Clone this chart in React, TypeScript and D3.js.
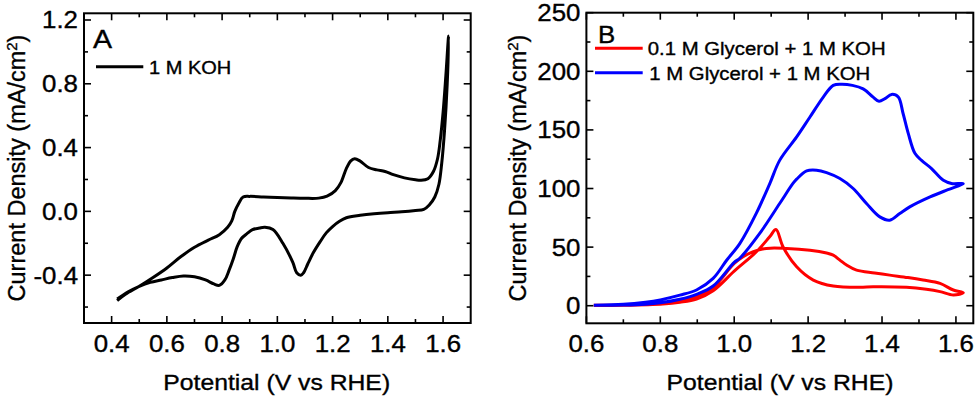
import React from 'react';
import * as d3 from 'd3';

// Panel A: CV in 1 M KOH, traced as one loop (forward then reverse)
const potentialA = [
  0.42, 0.45, 0.5, 0.55, 0.6, 0.65, 0.7, 0.75, 0.79, 0.82, 0.835, 0.846, 0.86, 0.876, 0.9, 0.95, 1.0, 1.05, 1.1, 1.15,
  1.18, 1.21, 1.23, 1.25, 1.265, 1.28, 1.3, 1.33, 1.36, 1.39, 1.42, 1.46, 1.5, 1.52, 1.545, 1.565, 1.58, 1.59, 1.6, 1.61, 1.62,
  1.615, 1.605, 1.595, 1.585, 1.57, 1.55, 1.53, 1.5, 1.45, 1.4, 1.35, 1.3, 1.25, 1.225, 1.2, 1.177, 1.155, 1.13, 1.11, 1.095,
  1.085, 1.07, 1.056, 1.02, 0.984, 0.955, 0.936, 0.91, 0.89, 0.87, 0.855, 0.84, 0.825, 0.81, 0.79, 0.77, 0.74, 0.7, 0.66,
  0.62, 0.58, 0.54, 0.5, 0.46, 0.42,
];
const currentA = [
  -0.56, -0.52, -0.47, -0.415, -0.355, -0.285, -0.225, -0.18, -0.146, -0.1, -0.06, 0.0, 0.05, 0.09, 0.094, 0.09, 0.087, 0.084, 0.082, 0.083,
  0.095, 0.13, 0.18, 0.27, 0.315, 0.33, 0.315, 0.275, 0.26, 0.25, 0.23, 0.21, 0.198, 0.195, 0.205, 0.25, 0.33, 0.45, 0.62, 0.85, 1.1,
  0.8, 0.5, 0.3, 0.17, 0.09, 0.04, 0.012, 0.005, -0.003, -0.008, -0.015, -0.025, -0.04, -0.062, -0.095, -0.135, -0.19, -0.26, -0.33, -0.385,
  -0.4, -0.385, -0.32, -0.2, -0.114, -0.1, -0.104, -0.115, -0.14, -0.17, -0.22, -0.3, -0.37, -0.43, -0.464, -0.455, -0.43, -0.41, -0.405,
  -0.415, -0.43, -0.445, -0.47, -0.505, -0.55,
];

// Panel B: 1 M glycerol + 1 M KOH (blue)
const potentialBlue = [
  0.62, 0.7, 0.76, 0.8, 0.853, 0.898, 0.943, 0.98, 1.015, 1.06, 1.096, 1.123, 1.169, 1.205, 1.241, 1.268, 1.29, 1.32, 1.349,
  1.376, 1.392, 1.408, 1.426, 1.444, 1.457, 1.471, 1.489, 1.507, 1.534, 1.566, 1.588, 1.615,
  1.62, 1.575, 1.53, 1.475, 1.448, 1.421, 1.394, 1.358, 1.322, 1.286, 1.25, 1.223, 1.196, 1.169, 1.159, 1.123, 1.069, 1.015,
  1.0, 0.943, 0.898, 0.853, 0.8, 0.76, 0.7, 0.62,
];
const currentBlue = [
  0.5, 1.2, 3, 5, 9, 13.4, 23.3, 39, 53, 79, 104, 124, 144, 161, 178, 188, 189, 188, 185,
  178, 174.4, 176.7, 180.3, 178, 164, 147, 130, 124, 117, 107, 104.3, 104.3,
  104, 98.6, 92.8, 84.3, 78.7, 73, 75.8, 87.2, 100, 108.5, 113.5, 115.6, 115, 108, 104.3, 87.2, 61.7, 40.5,
  37, 16.8, 9.7, 5.5, 2.5, 1.3, 0.6, 0.4,
];

// Panel B: 0.1 M glycerol + 1 M KOH (red)
const potentialRed = [
  0.62, 0.7, 0.76, 0.807, 0.853, 0.898, 0.943, 1.0, 1.024, 1.05, 1.087, 1.142, 1.205, 1.25, 1.268, 1.286, 1.304, 1.331, 1.38,
  1.421, 1.47, 1.511, 1.557, 1.593, 1.62,
  1.593, 1.557, 1.52, 1.466, 1.376, 1.34, 1.268, 1.214, 1.169, 1.132, 1.113, 1.096, 1.06, 1.0, 0.943, 0.898, 0.853, 0.807, 0.7, 0.62,
];
const currentRed = [
  0.3, 0.5, 0.9, 2, 4, 8, 15.6, 36, 41.7, 46, 48.9, 48.9, 47.4, 45, 43.2, 38.9, 34.7, 30.4, 28,
  26.1, 24, 21.9, 19, 13.4, 11,
  9.1, 12, 14, 15.7, 16.2, 15.7, 16.8, 21.9, 33.2, 50.3, 65, 58.8, 46, 29.5, 12.8, 5.7, 3, 1.5, 0.4, 0.2,
];

const xMajorA = [0.4, 0.6, 0.8, 1.0, 1.2, 1.4, 1.6];
const xMinorA = [0.5, 0.7, 0.9, 1.1, 1.3, 1.5];
const yMajorA = [-0.4, 0.0, 0.4, 0.8, 1.2];
const yMinorA = [-0.6, -0.2, 0.2, 0.6, 1.0];

const xMajorB = [0.6, 0.8, 1.0, 1.2, 1.4, 1.6];
const xMinorB = [0.7, 0.9, 1.1, 1.3, 1.5];
const yMajorB = [0, 50, 100, 150, 200, 250];
const yMinorB = [25, 75, 125, 175, 225];

const FONT = '"Liberation Sans", Arial, Helvetica, sans-serif';
const SX = 1.1; // glyphs in the reference are a little wider than tall

type Pt = [number, number];
const zip = (xs: number[], ys: number[]): Pt[] => xs.map((x, i) => [x, ys[i]]);

const SText = ({ x, y, size, anchor = 'start', children }: any) => (
  <text
    transform={`translate(${x},${y}) scale(${SX},1)`}
    fontSize={size}
    fontFamily={FONT}
    textAnchor={anchor}
    fill="#000"
    stroke="#000"
    strokeWidth={0.35}
  >
    {children}
  </text>
);

const Frame = ({ x, y, xMajor, xMinor, yMajor, yMinor, yFmt }: any) => {
  const [x0, x1] = x.range();
  const [y1, y0] = y.range();
  const major = 7;
  const minor = 4;
  return (
    <g stroke="#000" strokeWidth={1.6}>
      {xMajor.map((v: number) => (
        <g key={'xM' + v}>
          <line x1={x(v)} x2={x(v)} y1={y1} y2={y1 - major} />
          <line x1={x(v)} x2={x(v)} y1={y0} y2={y0 + major} />
        </g>
      ))}
      {xMinor.map((v: number) => (
        <g key={'xm' + v}>
          <line x1={x(v)} x2={x(v)} y1={y1} y2={y1 - minor} />
          <line x1={x(v)} x2={x(v)} y1={y0} y2={y0 + minor} />
        </g>
      ))}
      {yMajor.map((v: number) => (
        <g key={'yM' + v}>
          <line x1={x0} x2={x0 + major} y1={y(v)} y2={y(v)} />
          <line x1={x1} x2={x1 - major} y1={y(v)} y2={y(v)} />
        </g>
      ))}
      {yMinor.map((v: number) => (
        <g key={'ym' + v}>
          <line x1={x0} x2={x0 + minor} y1={y(v)} y2={y(v)} />
          <line x1={x1} x2={x1 - minor} y1={y(v)} y2={y(v)} />
        </g>
      ))}
      <rect x={x0} y={y0} width={x1 - x0} height={y1 - y0} fill="none" strokeWidth={2} />
      <g>
        {xMajor.map((v: number) => (
          <SText key={'xl' + v} x={x(v)} y={y1 + 29} size={23.5} anchor="middle">
            {v.toFixed(1)}
          </SText>
        ))}
        {yMajor.map((v: number) => (
          <SText key={'yl' + v} x={x0 - 6} y={y(v) + 8.5} size={23.5} anchor="end">
            {yFmt(v)}
          </SText>
        ))}
      </g>
    </g>
  );
};

const YTitle = ({ x, y }: any) => (
  <text
    transform={`translate(${x},${y}) rotate(-90)`}
    fontSize={23.5}
    fontFamily={FONT}
    textAnchor="middle"
    fill="#000"
    stroke="#000"
    strokeWidth={0.35}
  >
    Current Density (mA/cm
    <tspan dy={-8} fontSize={15}>2</tspan>
    <tspan dy={8}>)</tspan>
  </text>
);

export default function App() {
  // panel A scales
  const xA = d3.scaleLinear().domain([0.3, 1.7]).range([84, 470.7]);
  const yA = d3.scaleLinear().domain([-0.7, 1.242]).range([323, 13.3]);
  // panel B scales
  const xB = d3.scaleLinear().domain([0.6, 1.647]).range([586.4, 973.3]);
  const yB = d3.scaleLinear().domain([-15, 250]).range([323.3, 12.7]);

  const lineA = d3.line<Pt>().x((d) => xA(d[0])).y((d) => yA(d[1])).curve(d3.curveCatmullRom.alpha(0.5));
  const lineB = d3.line<Pt>().x((d) => xB(d[0])).y((d) => yB(d[1])).curve(d3.curveCatmullRom.alpha(0.5));

  return (
    <svg
      width={975}
      height={397}
      style={{ position: 'absolute', left: 0, top: 0, background: '#fff' }}
    >
      {/* Panel A */}
      <path d={lineA(zip(potentialA, currentA)) || ''} fill="none" stroke="#000" strokeWidth={3} strokeLinejoin="round" />
      <Frame x={xA} y={yA} xMajor={xMajorA} xMinor={xMinorA} yMajor={yMajorA} yMinor={yMinorA} yFmt={(v: number) => v.toFixed(1)} />
      <SText x={93} y={48.3} size={26}>A</SText>
      <line x1={96} x2={143.3} y1={66.7} y2={66.7} stroke="#000" strokeWidth={3} />
      <SText x={149} y={74} size={18.2}>1 M KOH</SText>
      <SText x={276.7} y={390} size={22.5} anchor="middle">Potential (V vs RHE)</SText>
      <YTitle x={25} y={168} />

      {/* Panel B */}
      <path d={lineB(zip(potentialRed, currentRed)) || ''} fill="none" stroke="#ff0000" strokeWidth={3} strokeLinejoin="round" />
      <path d={lineB(zip(potentialBlue, currentBlue)) || ''} fill="none" stroke="#0000ff" strokeWidth={3} strokeLinejoin="round" />
      <Frame x={xB} y={yB} xMajor={xMajorB} xMinor={xMinorB} yMajor={yMajorB} yMinor={yMinorB} yFmt={(v: number) => String(v)} />
      <SText x={598} y={42.7} size={23.5}>B</SText>
      <line x1={595} x2={642.7} y1={48.3} y2={48.3} stroke="#ff0000" strokeWidth={3} />
      <SText x={647.7} y={55} size={18.5}>0.1 M Glycerol + 1 M KOH</SText>
      <line x1={595} x2={642.7} y1={72.7} y2={72.7} stroke="#0000ff" strokeWidth={3} />
      <SText x={649.3} y={79.5} size={18.5}>1 M Glycerol + 1 M KOH</SText>
      <SText x={780} y={390} size={22.5} anchor="middle">Potential (V vs RHE)</SText>
      <YTitle x={525.5} y={168} />
    </svg>
  );
}
